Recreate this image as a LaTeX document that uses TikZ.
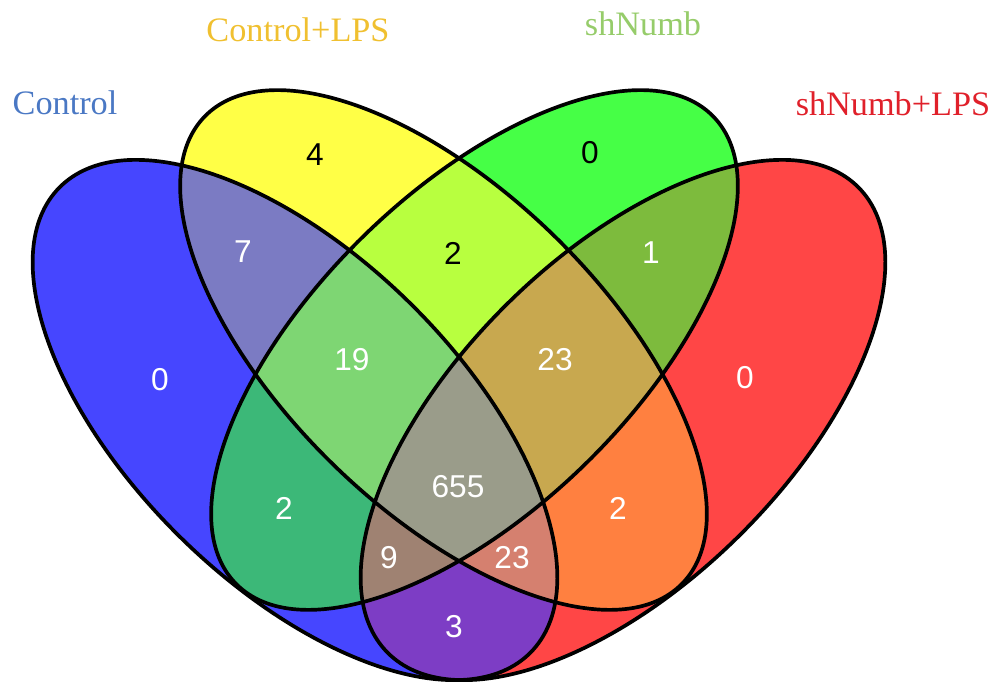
\documentclass[tikz,border=0pt]{standalone}
\usepackage{fontspec}
\setmainfont{Liberation Serif}
\newfontfamily\numfont{Liberation Sans}
\usepackage{xcolor}
% single sets
\definecolor{vnA}{HTML}{4646FF}
\definecolor{vnB}{HTML}{FFFF46}
\definecolor{vnC}{HTML}{46FF46}
\definecolor{vnD}{HTML}{FF4646}
% overlaps
\definecolor{vnAB}{HTML}{7B7BC3}
\definecolor{vnAC}{HTML}{3CB878}
\definecolor{vnAD}{HTML}{7D3DC5}
\definecolor{vnBC}{HTML}{B8FF3F}
\definecolor{vnBD}{HTML}{FF8040}
\definecolor{vnCD}{HTML}{7DBB3D}
\definecolor{vnABC}{HTML}{7ED673}
\definecolor{vnABD}{HTML}{D5806F}
\definecolor{vnACD}{HTML}{9F8272}
\definecolor{vnBCD}{HTML}{C8A84F}
\definecolor{vnABCD}{HTML}{9A9C8A}
% set names
\definecolor{nameA}{HTML}{4A78C4}
\definecolor{nameB}{HTML}{F0C030}
\definecolor{nameC}{HTML}{96CC6A}
\definecolor{nameD}{HTML}{E0202A}
\newcommand{\ellA}{(5.90,5.28) circle [x radius=6.62, y radius=3.28, rotate=-44.6]}
\newcommand{\ellB}{(8.87,6.68) circle [x radius=6.68, y radius=3.18, rotate=-44.4]}
\newcommand{\ellC}{(9.49,6.68) circle [x radius=6.68, y radius=3.18, rotate=44.4]}
\newcommand{\ellD}{(12.46,5.28) circle [x radius=6.62, y radius=3.28, rotate=44.6]}
\tikzset{
  setline/.style  = {draw=black, line width=2.1pt},
  count/.style    = {font=\numfont\fontsize{18}{20}\selectfont, text=white,
                     inner sep=0pt},
  countd/.style   = {count, text=black},
  setname/.style  = {font=\fontsize{19.5}{22}\selectfont, inner sep=0pt},
}

\begin{document}
\begin{tikzpicture}
  \useasboundingbox (0,0) rectangle (19.94,13.68);

  % one colour per set
  \fill[vnA] \ellA;
  \fill[vnB] \ellB;
  \fill[vnC] \ellC;
  \fill[vnD] \ellD;

  % two sets
  \begin{scope} \clip \ellA; \fill[vnAB] \ellB; \end{scope}
  \begin{scope} \clip \ellA; \fill[vnAC] \ellC; \end{scope}
  \begin{scope} \clip \ellA; \fill[vnAD] \ellD; \end{scope}
  \begin{scope} \clip \ellB; \fill[vnBC] \ellC; \end{scope}
  \begin{scope} \clip \ellB; \fill[vnBD] \ellD; \end{scope}
  \begin{scope} \clip \ellC; \fill[vnCD] \ellD; \end{scope}

  % three sets
  \begin{scope} \clip \ellA; \clip \ellB; \fill[vnABC] \ellC; \end{scope}
  \begin{scope} \clip \ellA; \clip \ellB; \fill[vnABD] \ellD; \end{scope}
  \begin{scope} \clip \ellA; \clip \ellC; \fill[vnACD] \ellD; \end{scope}
  \begin{scope} \clip \ellB; \clip \ellC; \fill[vnBCD] \ellD; \end{scope}

  % all four
  \begin{scope} \clip \ellA; \clip \ellB; \clip \ellC; \fill[vnABCD] \ellD; \end{scope}

  % outlines
  \draw[setline] \ellA;
  \draw[setline] \ellB;
  \draw[setline] \ellC;
  \draw[setline] \ellD;

  % counts
  \node[countd] (rB)    at (6.30,10.58) {4};
  \node[countd] (rC)    at (11.80,10.62) {0};
  \node[count]  (rAB)   at (4.86,8.64) {7};
  \node[countd] (rBC)   at (9.06,8.62) {2};
  \node[count]  (rCD)   at (13.02,8.62) {1};
  \node[count]  (rA)    at (3.20,6.08) {0};
  \node[count]  (rABC)  at (7.04,6.48) {19};
  \node[count]  (rBCD)  at (11.10,6.48) {23};
  \node[count]  (rD)    at (14.90,6.12) {0};
  \node[count]  (rABCD) at (9.16,3.94) {655};
  \node[count]  (rAC)   at (5.68,3.52) {2};
  \node[count]  (rBD)   at (12.36,3.52) {2};
  \node[count]  (rACD)  at (7.78,2.52) {9};
  \node[count]  (rABD)  at (10.24,2.52) {23};
  \node[count]  (rAD)   at (9.08,1.14) {3};

  % set names
  \node[setname, text=nameA] (labA) at (1.30,11.62) {Control};
  \node[setname, text=nameB] (labB) at (5.96,13.08) {Control+LPS};
  \node[setname, text=nameC] (labC) at (12.86,13.20) {shNumb};
  \node[setname, text=nameD] (labD) at (17.86,11.60) {shNumb+LPS};

\end{tikzpicture}
\end{document}
